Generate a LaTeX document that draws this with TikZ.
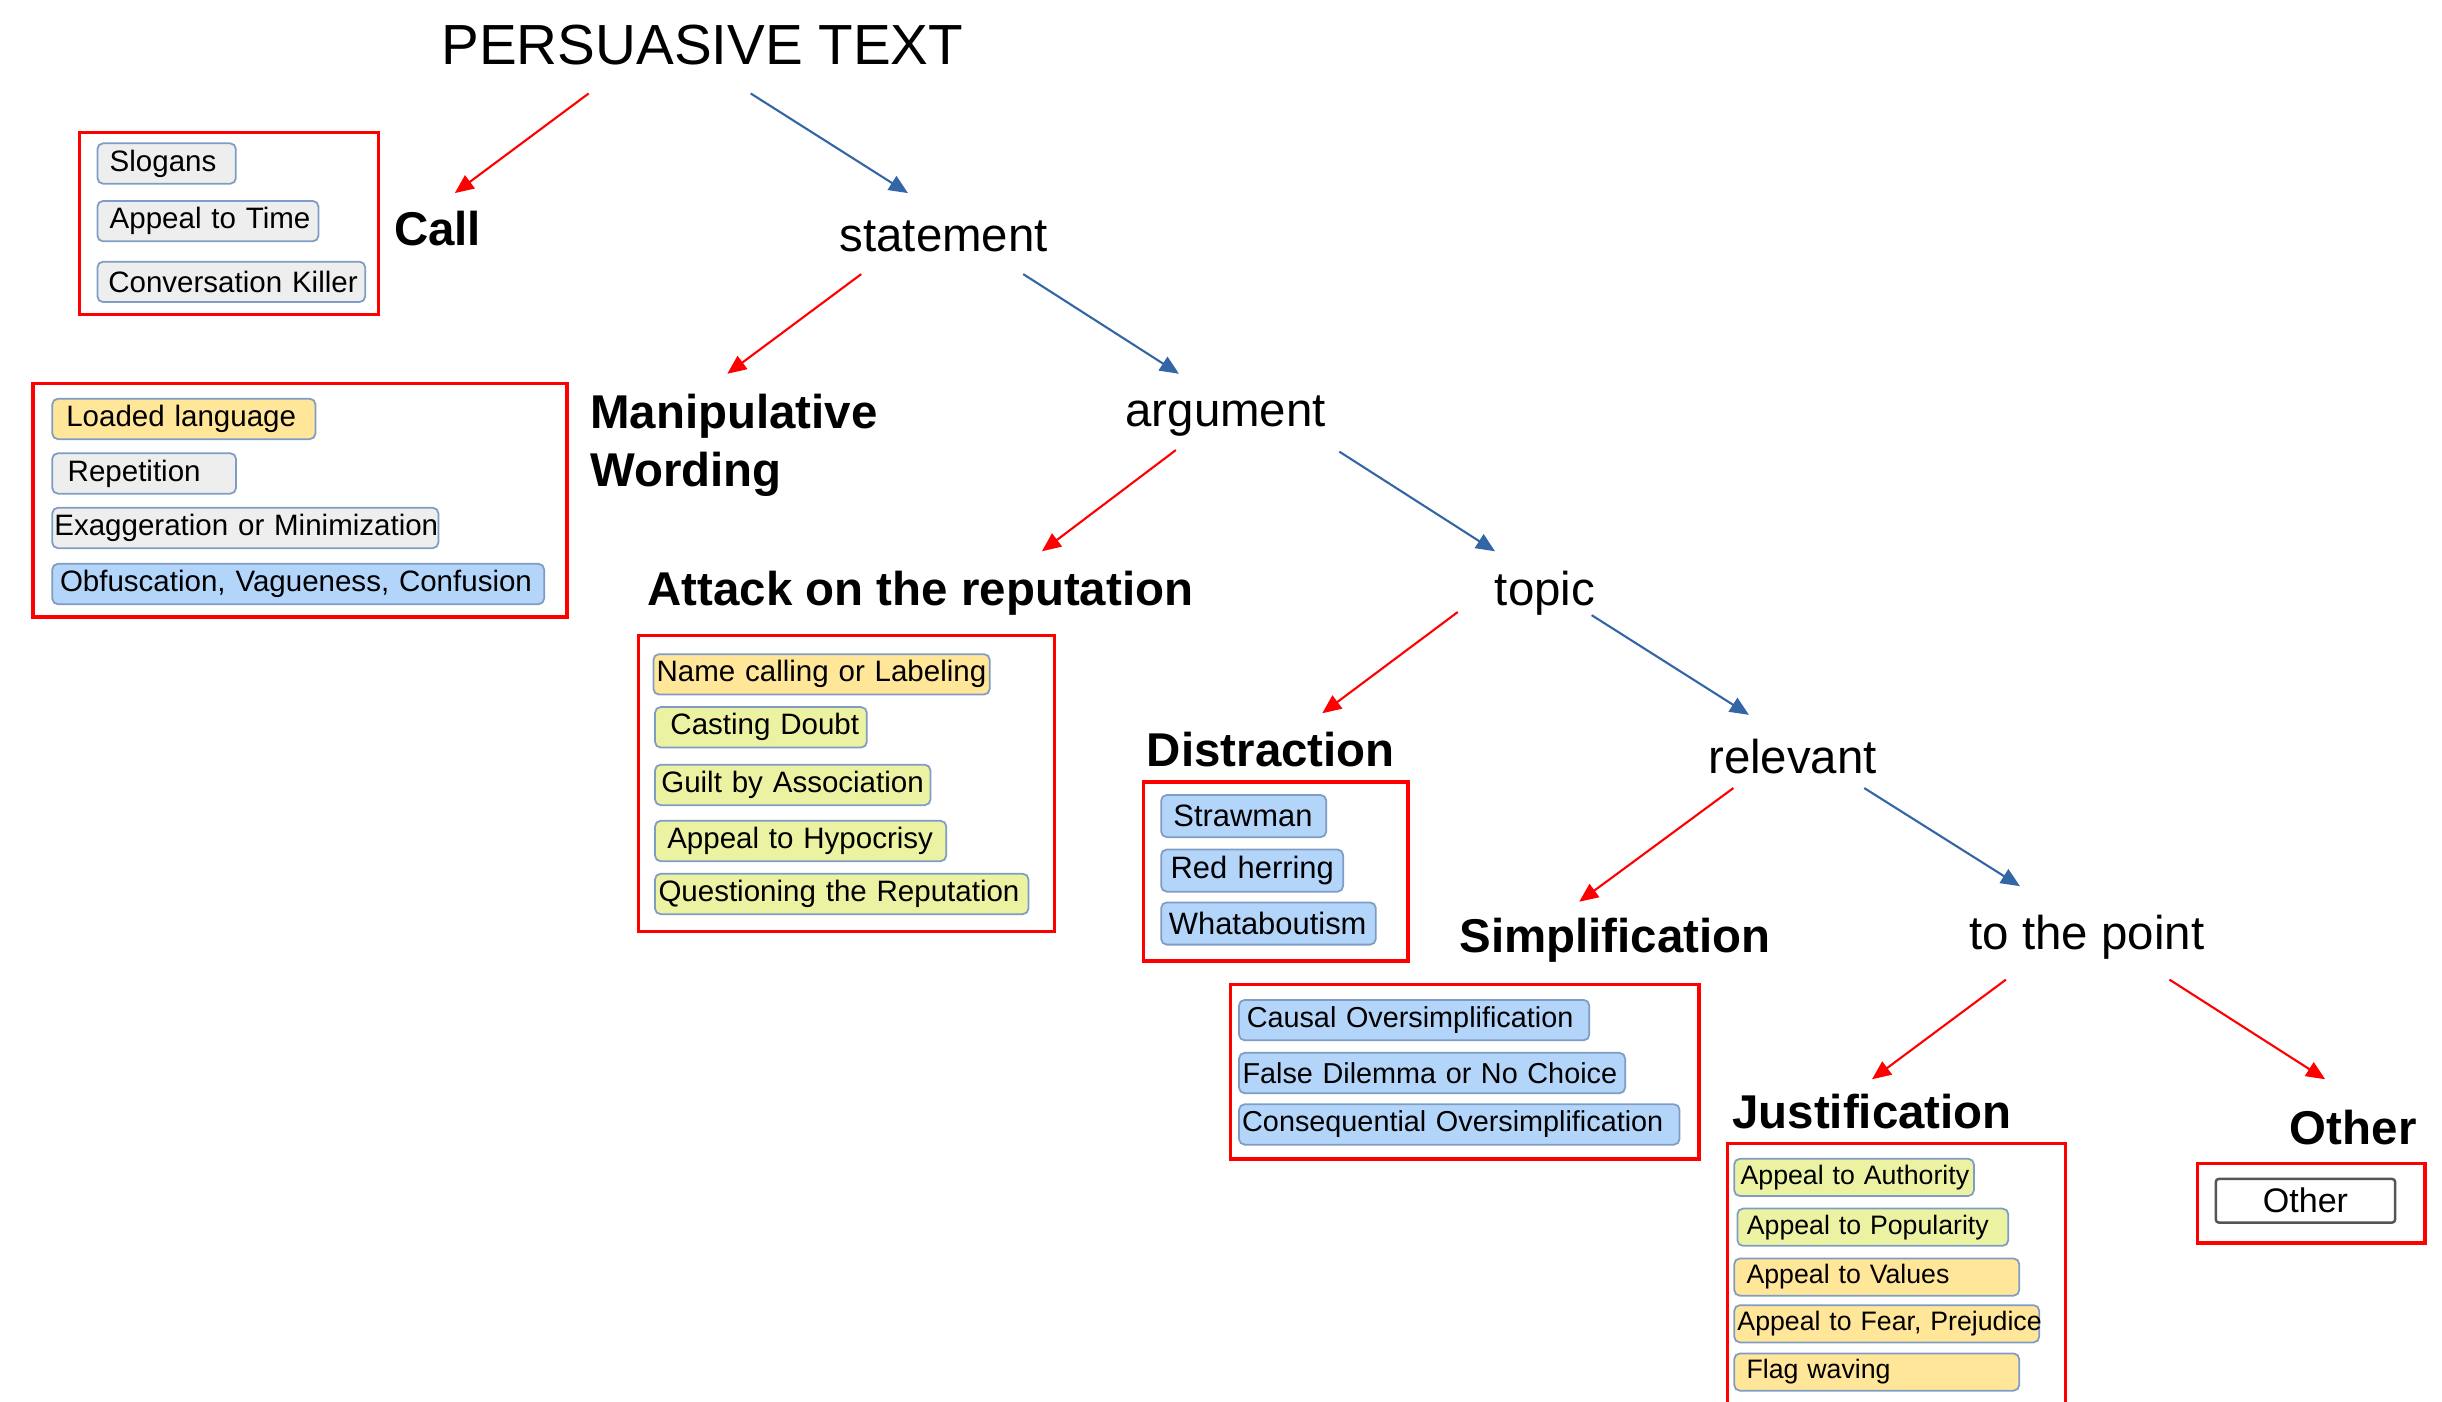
\documentclass[tikz,border=0pt]{standalone}
\usepackage{fontspec}
\setmainfont{Liberation Sans}
\usetikzlibrary{arrows.meta}
\definecolor{arrred}{HTML}{FF0000}
\definecolor{arrblue}{HTML}{3465A4}
\definecolor{itemborder}{HTML}{7F9CC4}
\definecolor{fillgray}{HTML}{EEEEEE}
\definecolor{fillyellow}{HTML}{FFE699}
\definecolor{fillgreen}{HTML}{EBF3A3}
\definecolor{fillblue}{HTML}{B4D5FA}
\definecolor{otherborder}{HTML}{555555}
\newcommand{\nb}[1]{\mbox{#1}}
\begin{document}
\begin{tikzpicture}[x=0.015574cm, y=-0.015574cm,
  redarrow/.style={draw=arrred, line width=0.6pt, -{Triangle[length=5.4pt,width=4.6pt]}},
  bluearrow/.style={draw=arrblue, line width=0.6pt, -{Triangle[length=5.4pt,width=4.6pt]}},
  groupframe/.style={draw=arrred, line width=1pt, anchor=north west, inner sep=0pt},
  itembox/.style={draw=itemborder, line width=0.5pt, rounded corners=1.6pt, anchor=west, inner ysep=0pt, minimum height=11.5pt, align=left},
  lbl/.style={font=\fontsize{13.5}{16}\selectfont},
  lblb/.style={font=\fontsize{13.5}{16.4}\selectfont\bfseries},
  fa/.style={font=\fontsize{8.4}{10}\selectfont},
  fd/.style={font=\fontsize{8.8}{10}\selectfont},
  fs/.style={font=\fontsize{8.2}{10}\selectfont},
  fj/.style={font=\fontsize{7.6}{9}\selectfont},
]
\useasboundingbox (0,0) rectangle (1568,900);

% labels
\node[font=\fontsize{16.1}{18}\selectfont] (pt) at (451,29) {PERSUASIVE TEXT};
\node[lblb] (call) at (281,147) {Call};
\node[lbl] (statement) at (606,152) {statement};
\node[lblb, anchor=west, align=left] (manip) at (371,286) {Manipulative\\Wording};
\node[lbl] (argument) at (787,267) {argument};
\node[lblb] (attack) at (591,381) {Attack on the reputation};
\node[lbl] (topic) at (992,381) {topic};
\node[lblb] (distraction) at (816,481) {Distraction};
\node[lbl] (relevant) at (1151,486) {relevant};
\node[lblb] (simplification) at (1037,604) {Simplification};
\node[lbl] (tothepoint) at (1340,602) {to the point};
\node[lblb] (justification) at (1202,714) {Justification};
\node[lblb] (otherlbl) at (1511,724) {Other};

% group frames
\node[groupframe, minimum width=85.1pt, minimum height=51.8pt] (callbox) at (50,84) {};
\node[groupframe, minimum width=152.0pt, minimum height=66.5pt] (manipbox) at (20,245) {};
\node[groupframe, minimum width=118.3pt, minimum height=84.2pt] (attackbox) at (409,407) {};
\node[groupframe, minimum width=75.3pt, minimum height=51.0pt] (distbox) at (733,501) {};
\node[groupframe, minimum width=133.4pt, minimum height=49.6pt] (simpbox) at (789,631) {};
\node[groupframe, minimum width=96.2pt, minimum height=80pt] (justbox) at (1108,733) {};
\node[groupframe, minimum width=64.7pt, minimum height=22.6pt] (otherbox) at (1410,746) {};

% Call items
\node[itembox, fa, fill=fillgray, inner xsep=3.5pt, text width=32.4pt] (slogans) at (62,105) {\nb{Slogans}};
\node[itembox, fa, fill=fillgray, inner xsep=3.5pt, text width=55.9pt] (time) at (62,142) {\nb{Appeal to Time}};
\node[itembox, fa, fill=fillgray, inner xsep=3.1pt, text width=70.0pt] (killer) at (62,181) {\nb{Conversation Killer}};

% Manipulative wording items
\node[itembox, fa, fill=fillyellow, inner xsep=4.0pt, text width=66.9pt] (loaded) at (33,269) {\nb{Loaded language}};
\node[itembox, fa, fill=fillgray, inner xsep=4.4pt, text width=43.5pt] (repetition) at (33,304) {\nb{Repetition}};
\node[itembox, fa, fill=fillgray, inner xsep=0.6pt, text width=108.7pt] (exagg) at (33,339) {\nb{Exaggeration or Minimization}};
\node[itembox, fa, fill=fillblue, inner xsep=2.2pt, text width=135.6pt] (obf) at (33,375) {\nb{Obfuscation, Vagueness, Confusion}};

% Attack items
\node[itembox, fa, fill=fillyellow, inner xsep=0.9pt, text width=93.9pt] (namecall) at (419,433) {\nb{Name calling or Labeling}};
\node[itembox, fa, fill=fillgreen, inner xsep=4.4pt, text width=51.5pt] (doubt) at (420,467) {\nb{Casting Doubt}};
\node[itembox, fa, fill=fillgreen, inner xsep=1.8pt, text width=74.8pt] (guilt) at (420,504) {\nb{Guilt by Association}};
\node[itembox, fa, fill=fillgreen, inner xsep=3.5pt, text width=75.9pt] (hypo) at (420,540) {\nb{Appeal to Hypocrisy}};
\node[itembox, fa, fill=fillgreen, inner xsep=1.0pt, text width=104.3pt] (quest) at (420,574) {\nb{Questioning the Reputation}};

% Distraction items
\node[itembox, fd, fill=fillblue, inner xsep=3.5pt, text width=40pt, minimum height=12pt] (straw) at (745,524) {\nb{Strawman}};
\node[itembox, fd, fill=fillblue, inner xsep=2.7pt, text width=46.4pt, minimum height=12pt] (redher) at (745,559) {\nb{Red herring}};
\node[itembox, fd, fill=fillblue, inner xsep=2.2pt, text width=56.7pt, minimum height=12pt] (whatab) at (745,593) {\nb{Whataboutism}};

% Simplification items
\node[itembox, fs, fill=fillblue, inner xsep=2.2pt, text width=95.3pt] (causal) at (795,655) {\nb{Causal Oversimplification}};
\node[itembox, fs, fill=fillblue, inner xsep=1.0pt, text width=107.9pt] (falsedil) at (795,689) {\nb{False Dilemma or No Choice}};
\node[itembox, fs, fill=fillblue, inner xsep=0.9pt, text width=123.6pt] (conseq) at (795,722) {\nb{Consequential Oversimplification}};

% Justification items
\node[itembox, fj, fill=fillgreen, inner xsep=1.8pt, text width=64.6pt, minimum height=10.6pt] (auth) at (1113,756) {\nb{Appeal to Authority}};
\node[itembox, fj, fill=fillgreen, inner xsep=2.7pt, text width=71.7pt, minimum height=10.6pt] (popul) at (1115,788) {\nb{Appeal to Popularity}};
\node[itembox, fj, fill=fillyellow, inner xsep=3.5pt, text width=74.1pt, minimum height=10.6pt] (values) at (1113,820) {\nb{Appeal to Values}};
\node[itembox, fj, fill=fillyellow, inner xsep=0.9pt, text width=85.0pt, minimum height=10.6pt] (fear) at (1113,850) {\nb{Appeal to Fear, Prejudice}};
\node[itembox, fj, fill=fillyellow, inner xsep=3.5pt, text width=74.1pt, minimum height=10.6pt] (flag) at (1113,881) {\nb{Flag waving}};

% Other item
\node[draw=otherborder, line width=0.7pt, rounded corners=0.8pt, fill=white, anchor=west, minimum width=51pt, minimum height=12.4pt, inner sep=0pt, font=\fontsize{9.7}{11}\selectfont] (other) at (1422,771) {Other};

% arrow end points
\coordinate (a1s) at (378,60);  \coordinate (a1e) at (292,124);
\coordinate (a2s) at (482,60);  \coordinate (a2e) at (583,124);
\coordinate (a3s) at (553,176); \coordinate (a3e) at (467,240);
\coordinate (a4s) at (657,176); \coordinate (a4e) at (757,240);
\coordinate (a5s) at (755,289); \coordinate (a5e) at (669,354);
\coordinate (a6s) at (860,290); \coordinate (a6e) at (960,354);
\coordinate (a7s) at (936,393); \coordinate (a7e) at (849,458);
\coordinate (a8s) at (1022,395); \coordinate (a8e) at (1123,459);
\coordinate (a9s) at (1113,506); \coordinate (a9e) at (1014,579);
\coordinate (a10s) at (1197,506); \coordinate (a10e) at (1297,569);
\coordinate (a11s) at (1288,629); \coordinate (a11e) at (1202,693);
\coordinate (a12s) at (1393,629); \coordinate (a12e) at (1493,693);

\draw[redarrow] (a1s) -- (a1e);
\draw[bluearrow] (a2s) -- (a2e);
\draw[redarrow] (a3s) -- (a3e);
\draw[bluearrow] (a4s) -- (a4e);
\draw[redarrow] (a5s) -- (a5e);
\draw[bluearrow] (a6s) -- (a6e);
\draw[redarrow] (a7s) -- (a7e);
\draw[bluearrow] (a8s) -- (a8e);
\draw[redarrow] (a9s) -- (a9e);
\draw[bluearrow] (a10s) -- (a10e);
\draw[redarrow] (a11s) -- (a11e);
\draw[redarrow] (a12s) -- (a12e);
\end{tikzpicture}
\end{document}
